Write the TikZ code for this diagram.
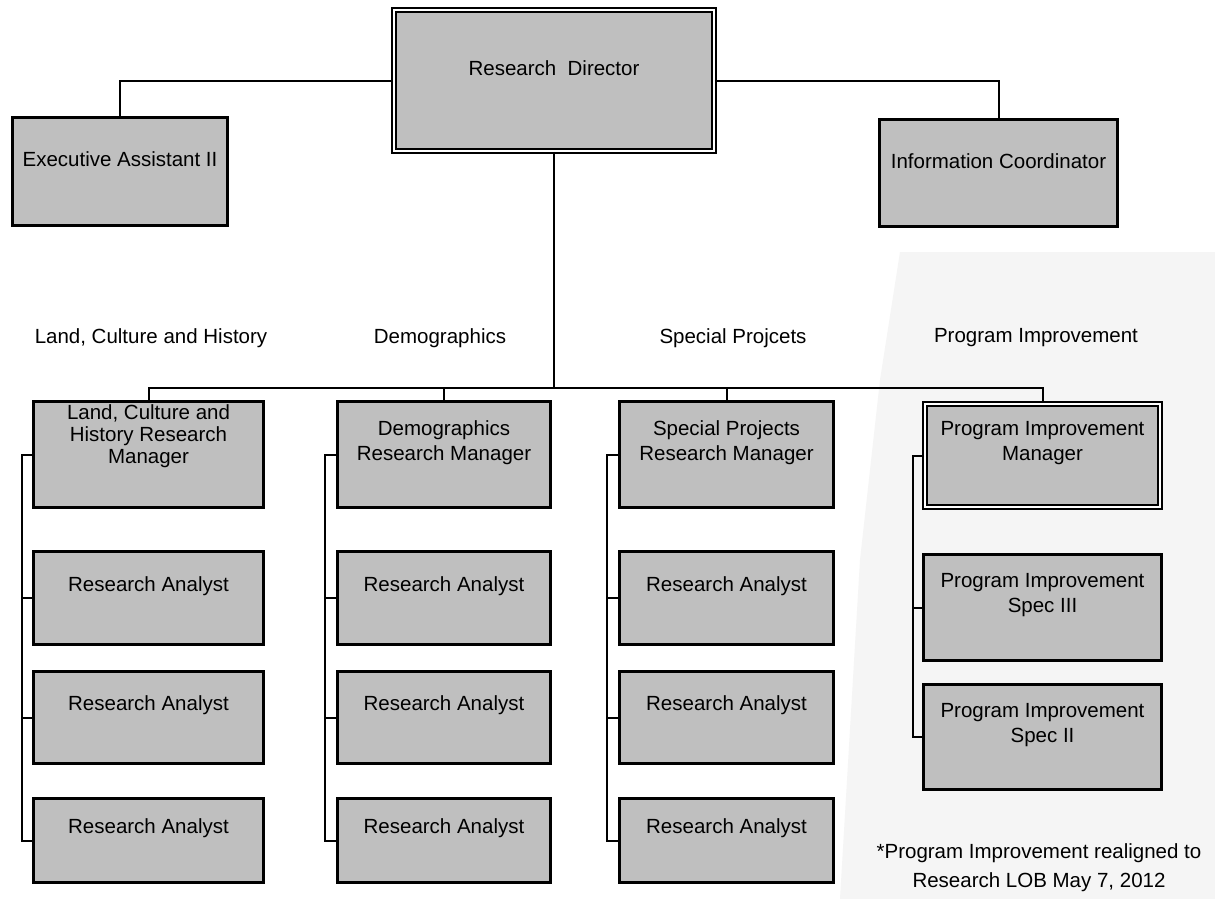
\documentclass[tikz,border=0pt]{standalone}
\usepackage{fontspec}
\setmainfont{Liberation Sans}
\begin{document}
\begin{tikzpicture}[x=1pt,y=-1pt,
  every node/.style={font=\fontsize{20.5}{25}\selectfont},
  box/.style={draw=black, line width=2.6pt, fill=black!25, inner sep=0pt},
  dbox/.style={draw=black, line width=1.8pt, double=white, double distance=1.8pt, fill=black!25, inner sep=0pt},
  txt/.style={align=center, inner sep=0pt},
  link/.style={draw=black, line width=2pt}
]
\useasboundingbox (0,0) rectangle (1215,899);
\fill[white] (0,0) rectangle (1215,899);
\fill[black!4] (900,252) -- (1215,252) -- (1215,899) -- (840,899) -- (860,560) -- (880,380) -- cycle;

% top level
\node[dbox, minimum width=320, minimum height=141] (dir) at (554,80.5) {};
\node[txt] (dirt) at ([yshift=12]dir.center) {Research\ \ Director};
\node[box, minimum width=215, minimum height=108] (exec) at (120,171.5) {};
\node[txt] (exect) at ([yshift=12]exec.center) {Executive Assistant II};
\node[box, minimum width=238, minimum height=107] (info) at (998.5,173) {};
\node[txt] (infot) at ([yshift=12]info.center) {Information Coordinator};

% headers
\node[txt] (h1) at (151,338) {Land, Culture and History};
\node[txt] (h2) at (440,338) {Demographics};
\node[txt] (h3) at (733,338) {Special Projcets};
\node[txt] (h4) at (1036,338) {Program Improvement};

% column 1
\node[box, minimum width=230, minimum height=106] (m1) at (148.5,454.5) {};
\node[txt, font=\fontsize{20.5}{22}\selectfont] (m1t) at ([yshift=18]m1.center) {Land, Culture and\\History Research\\Manager};
\node[box, minimum width=230, minimum height=93] (a11) at (148.5,598) {};
\node[txt] (a11t) at ([yshift=12]a11.center) {Research Analyst};
\node[box, minimum width=230, minimum height=92] (a12) at (148.5,717.5) {};
\node[txt] (a12t) at ([yshift=12]a12.center) {Research Analyst};
\node[box, minimum width=230, minimum height=84] (a13) at (148.5,840.5) {};
\node[txt] (a13t) at ([yshift=12]a13.center) {Research Analyst};

% column 2
\node[box, minimum width=213, minimum height=106] (m2) at (444,454.5) {};
\node[txt] (m2t) at ([yshift=12]m2.center) {Demographics\\Research Manager};
\node[box, minimum width=213, minimum height=93] (a21) at (444,598) {};
\node[txt] (a21t) at ([yshift=12]a21.center) {Research Analyst};
\node[box, minimum width=213, minimum height=92] (a22) at (444,717.5) {};
\node[txt] (a22t) at ([yshift=12]a22.center) {Research Analyst};
\node[box, minimum width=213, minimum height=84] (a23) at (444,840.5) {};
\node[txt] (a23t) at ([yshift=12]a23.center) {Research Analyst};

% column 3
\node[box, minimum width=214, minimum height=106] (m3) at (726.5,454.5) {};
\node[txt] (m3t) at ([yshift=12]m3.center) {Special Projects\\Research Manager};
\node[box, minimum width=214, minimum height=93] (a31) at (726.5,598) {};
\node[txt] (a31t) at ([yshift=12]a31.center) {Research Analyst};
\node[box, minimum width=214, minimum height=92] (a32) at (726.5,717.5) {};
\node[txt] (a32t) at ([yshift=12]a32.center) {Research Analyst};
\node[box, minimum width=214, minimum height=84] (a33) at (726.5,840.5) {};
\node[txt] (a33t) at ([yshift=12]a33.center) {Research Analyst};

% column 4
\node[dbox, minimum width=235, minimum height=103] (m4) at (1042.5,455.5) {};
\node[txt] (m4t) at ([yshift=12]m4.center) {Program Improvement\\Manager};
\node[box, minimum width=238, minimum height=106] (s3) at (1042.5,607.5) {};
\node[txt] (s3t) at ([yshift=12]s3.center) {Program Improvement\\Spec III};
\node[box, minimum width=238, minimum height=105] (s2) at (1042.5,737) {};
\node[txt] (s2t) at ([yshift=12]s2.center) {Program Improvement\\Spec II};

% note
\node[txt, font=\fontsize{20.5}{29}\selectfont] (note) at (1039,867.5) {*Program Improvement realigned to\\Research LOB May 7, 2012};

% connectors
\coordinate (bus) at (554,388);
\draw[link] (dir.west) -| (exec.north);
\draw[link] (dir.east) -| (info.north);
\draw[link] (dir.south) -- (bus);
\draw[link] (m1.north) |- (bus) -| (m4.north);
\draw[link] (m2.north) -- (m2.north |- bus);
\draw[link] (m3.north) -- (m3.north |- bus);

\draw[link] (m1.west) -- ++(-10,0) |- (a13.west);
\draw[link] (a11.west) -- ++(-10,0);
\draw[link] (a12.west) -- ++(-10,0);

\draw[link] (m2.west) -- ++(-11,0) |- (a23.west);
\draw[link] (a21.west) -- ++(-11,0);
\draw[link] (a22.west) -- ++(-11,0);

\draw[link] (m3.west) -- ++(-11,0) |- (a33.west);
\draw[link] (a31.west) -- ++(-11,0);
\draw[link] (a32.west) -- ++(-11,0);

\draw[link] (m4.west) -- ++(-11,0) |- (s2.west);
\draw[link] (s3.west) -- ++(-9.5,0);
\end{tikzpicture}
\end{document}
